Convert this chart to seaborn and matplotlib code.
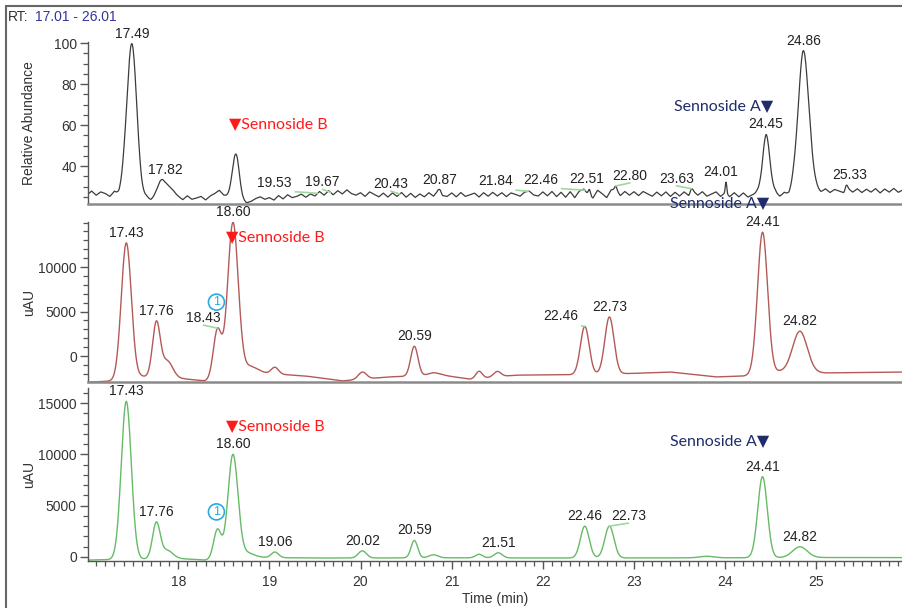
import numpy as np
import matplotlib
matplotlib.use('Agg')
import matplotlib.pyplot as plt
import seaborn as sns
from matplotlib.lines import Line2D
from matplotlib.ticker import MultipleLocator

# ---- values ----
rt_range = (17.01, 26.01)

# MS trace: noisy baseline, one value every 0.05 min starting at 17.00
ms_baseline = [
    26.0, 27.8, 25.8, 27.4, 26.6, 25.2, 27.6, 25.6, 27.2, 25.4, 25.8, 24.6, 23.6, 24.8, 23.5, 25.0, 25.4, 24.6, 25.6, 26.0,
    25.0, 23.6, 25.5, 23.8, 24.4, 25.2, 23.5, 25.4, 26.6, 28.2, 25.8, 25.0, 24.4, 25.2, 23.2, 22.0, 22.8, 24.2, 25.0, 23.8,
    24.6, 23.4, 25.6, 24.0, 26.0, 24.6, 25.2, 26.3, 24.8, 26.4, 25.4, 27.6, 25.8, 28.0, 26.0, 28.0, 26.4, 28.4, 26.6, 25.8,
    27.0, 25.2, 27.4, 26.2, 25.0, 26.8, 24.9, 26.9, 25.2, 27.1, 24.8, 26.7, 24.7, 26.4, 25.0, 27.0, 25.3, 28.0, 25.6, 25.2,
    26.9, 25.0, 27.1, 25.2, 26.0, 26.8, 24.9, 27.0, 25.3, 27.2, 25.4, 27.0, 25.1, 26.9, 26.2, 25.3, 27.3, 27.8, 25.9, 25.4,
    27.4, 25.5, 27.6, 25.1, 27.2, 24.8, 27.5, 24.6, 27.8, 28.8, 25.9, 24.4, 28.2, 26.6, 24.6, 28.4, 28.8, 25.6, 27.6, 25.8,
    27.5, 25.6, 27.6, 26.4, 25.3, 27.3, 25.5, 27.4, 25.2, 27.2, 25.4, 27.4, 25.6, 27.8, 25.8, 27.5, 25.3, 26.4, 27.4, 25.2,
    27.0, 25.1, 27.0, 25.0, 26.9, 24.9, 26.0, 26.8, 24.8, 27.4, 25.4, 27.0, 25.3, 27.1, 25.5, 27.4, 25.8, 27.6, 26.0, 27.6,
    28.2, 27.2, 28.9, 27.1, 28.6, 27.8, 27.0, 29.0, 27.3, 28.9, 27.1, 28.7, 27.3, 29.0, 26.9, 28.8, 27.3, 29.1, 27.2, 28.4,
]
ms_peak_rt = [17.49, 17.82, 17.90, 18.63, 20.87, 22.51, 22.80, 23.63, 24.01, 24.45, 24.86, 25.33]
ms_peak_height = [74, 7.5, 3.0, 21, 1.5, 3.0, 1.5, 2.0, 5.5, 28, 69, 2.5]
ms_peak_sigma = [0.055, 0.045, 0.05, 0.038, 0.012, 0.012, 0.012, 0.012, 0.008, 0.042, 0.06, 0.012]
ms_labels = ['17.49', '17.82', '19.53', '19.67', '20.43', '20.87', '21.84', '22.46',
             '22.51', '22.80', '23.63', '24.01', '24.45', '24.86', '25.33']

# UV trace 1 (brown)
uv1_base_t = [17.0, 17.3, 17.6, 17.75, 18.05, 18.3, 18.9, 19.4, 19.8, 20.3, 20.9, 21.2, 21.7,
              22.3, 23.0, 23.4, 23.9, 24.2, 24.6, 25.1, 25.95]
uv1_base_v = [-2950, -2800, -2300, -2400, -2550, -2800, -1900, -2250, -2800, -2350, -2150, -2600, -2150,
              -2100, -1950, -1800, -2350, -2250, -1750, -1900, -1800]
uv1_peak_rt = [17.43, 17.76, 17.88, 18.43, 18.60, 18.78, 19.06, 20.02, 20.59, 20.80,
               21.30, 21.50, 22.46, 22.73, 24.41, 24.82]
uv1_peak_height = [15300, 6100, 1900, 5500, 17300, 900, 750, 800, 3350, 300,
                   800, 600, 5400, 6400, 15900, 4600]
uv1_peak_sigma = [0.055, 0.042, 0.06, 0.045, 0.058, 0.08, 0.04, 0.045, 0.04, 0.06,
                  0.035, 0.04, 0.048, 0.05, 0.055, 0.08]
uv1_labels = ['17.43', '17.76', '18.43', '18.60', '20.59', '22.46', '22.73', '24.41', '24.82']

# UV trace 2 (green)
uv2_base_t = [17.0, 17.3, 18.0, 18.3, 18.9, 19.5, 20.0, 21.0, 22.0, 23.0, 24.0, 25.0, 25.95]
uv2_base_v = [-300, -250, -150, -300, -50, -100, -100, -80, -100, -90, -80, -50, -60]
uv2_peak_rt = [17.43, 17.76, 17.88, 18.43, 18.60, 18.75, 19.06, 20.02, 20.59, 20.80,
               21.30, 21.51, 22.46, 22.73, 23.80, 24.41, 24.82]
uv2_peak_height = [15400, 3500, 800, 2900, 10100, 500, 550, 700, 1700, 300,
                   350, 500, 3100, 3100, 150, 7900, 1050]
uv2_peak_sigma = [0.055, 0.042, 0.06, 0.042, 0.055, 0.08, 0.04, 0.045, 0.036, 0.05,
                  0.04, 0.045, 0.048, 0.05, 0.08, 0.052, 0.08]
uv2_labels = ['17.43', '17.76', '18.60', '19.06', '20.02', '20.59', '21.51',
              '22.46', '22.73', '24.41', '24.82']

sennoside_b_rt = [18.63, 18.60, 18.60]
sennoside_a_rt = [24.45, 24.41, 24.41]

# horizontal shifts of labels that were moved off their apex (pixels)
ms_nudge = {'17.82': 4, '19.53': -43, '19.67': -8, '20.43': -9, '21.84': -33,
            '22.46': -44, '22.51': -3, '22.80': 14, '23.63': -15, '24.01': -5, '25.33': 3}
uv1_nudge = {'18.43': -14, '22.46': -24}
uv2_nudge = {'22.73': 19}

W, H = 902, 608
LINK_GREEN = '#9fd89f'
LABEL_FONT = ['Liberation Sans', 'DejaVu Sans']
NAME_FONT = ['Lato', 'DejaVu Sans']

sns.set_theme(style='white')
plt.rcParams['font.family'] = LABEL_FONT


def build_trace(grid, base_t, base_v, peak_rt, peak_h, peak_s):
    y = np.interp(grid, base_t, base_v)
    for rt, h, s in zip(peak_rt, peak_h, peak_s):
        y = y + h * np.exp(-0.5 * ((grid - rt) / s) ** 2)
    return y


def label_peaks(ax, grid, y, labels, nudges):
    for lab in labels:
        rt = float(lab)
        yv = np.interp(rt, grid, y)
        dx = nudges.get(lab, 0)
        arrow = None
        if abs(dx) > 6:
            arrow = dict(arrowstyle='-', color=LINK_GREEN, lw=1.2,
                         shrinkA=0, shrinkB=0, relpos=(0.5, 0))
        ax.annotate(lab, xy=(rt, yv), xytext=(dx, 3), textcoords='offset pixels',
                    ha='center', va='bottom', fontsize=10, color='#222222',
                    arrowprops=arrow)


def mark_compound(ax, grid, y, rt, name, color, dy, left):
    yv = np.interp(rt, grid, y)
    if left:
        txt, ha, dx = '\u25bc' + name, 'left', -7
    else:
        txt, ha, dx = name + '\u25bc', 'right', 7
    ax.annotate(txt, xy=(rt, yv), xytext=(dx, dy), textcoords='offset pixels',
                ha=ha, va='center', fontsize=11.5, color=color, family=NAME_FONT)


def circled_one(ax, grid, y, dy):
    yv = np.interp(18.43, grid, y)
    ax.annotate('1', xy=(18.43, yv), xytext=(-1, dy), textcoords='offset pixels',
                ha='center', va='center', fontsize=9, color='#29abe2',
                bbox=dict(boxstyle='circle,pad=0.16', fc='none', ec='#29abe2', lw=1.2))


def px_axes(fig, left, top, right, bottom):
    return fig.add_axes([left / W, 1 - bottom / H, (right - left) / W, (bottom - top) / H])


def style_axes(ax, show_x):
    for side in ['top', 'right']:
        ax.spines[side].set_visible(False)
    ax.spines['left'].set_color('#555555')
    ax.spines['left'].set_linewidth(1.0)
    ax.spines['bottom'].set_color('#555555' if show_x else '#8a8a8a')
    ax.spines['bottom'].set_linewidth(1.0 if show_x else 1.8)
    ax.tick_params(axis='y', which='major', length=6, width=1, color='#555555',
                   labelsize=10, labelcolor='#333333', pad=2, direction='out', left=True)
    ax.tick_params(axis='y', which='minor', length=3.5, width=0.9, color='#555555',
                   direction='out', left=True)
    if show_x:
        ax.xaxis.set_major_locator(MultipleLocator(1))
        ax.xaxis.set_minor_locator(MultipleLocator(0.1))
        ax.tick_params(axis='x', which='major', length=6, width=1, color='#555555',
                       labelsize=10, labelcolor='#333333', pad=4, direction='out', bottom=True)
        ax.tick_params(axis='x', which='minor', length=3.5, width=0.9, color='#555555',
                       direction='out', bottom=True)
    else:
        ax.tick_params(axis='x', which='both', bottom=False, labelbottom=False)
    ax.set_xlim(17.01, 25.94)
    ax.set_facecolor('none')


grid = np.linspace(17.0, 25.95, 1791)
noise_t = 17.0 + 0.05 * np.arange(len(ms_baseline))

ms_y = build_trace(grid, noise_t, ms_baseline, ms_peak_rt, ms_peak_height, ms_peak_sigma)
uv1_y = build_trace(grid, uv1_base_t, uv1_base_v, uv1_peak_rt, uv1_peak_height, uv1_peak_sigma)
uv2_y = build_trace(grid, uv2_base_t, uv2_base_v, uv2_peak_rt, uv2_peak_height, uv2_peak_sigma)

fig = plt.figure(figsize=(W / 100, H / 100), dpi=100)
fig.patch.set_facecolor('white')

ax1 = px_axes(fig, 88, 42, 902, 204)
ax2 = px_axes(fig, 88, 222, 902, 382)
ax3 = px_axes(fig, 88, 388, 902, 561)

# MS panel
sns.lineplot(x=grid, y=ms_y, ax=ax1, color='#3c3c3c', linewidth=0.9)
style_axes(ax1, False)
ax1.set_ylim(21.5, 100.5)
ax1.set_yticks([40, 60, 80, 100])
ax1.yaxis.set_minor_locator(MultipleLocator(5))
ax1.set_ylabel('Relative Abundance', fontsize=10, color='#333333')
ax1.yaxis.set_label_coords(-0.064, 0.5)
label_peaks(ax1, grid, ms_y, ms_labels, ms_nudge)
mark_compound(ax1, grid, ms_y, sennoside_b_rt[0], 'Sennoside B', '#ff1a1a', 30, True)
mark_compound(ax1, grid, ms_y, sennoside_a_rt[0], 'Sennoside A', '#1f2d6b', 28, False)

# UV panel 1
sns.lineplot(x=grid, y=uv1_y, ax=ax2, color='#b35a57', linewidth=1.0)
style_axes(ax2, False)
ax2.set_ylim(-2920, 15060)
ax2.set_yticks([0, 5000, 10000])
ax2.yaxis.set_minor_locator(MultipleLocator(1000))
ax2.set_ylabel('uAU', fontsize=10, color='#333333')
ax2.yaxis.set_label_coords(-0.064, 0.5)
label_peaks(ax2, grid, uv1_y, uv1_labels, uv1_nudge)
mark_compound(ax2, grid, uv1_y, sennoside_b_rt[1], 'Sennoside B', '#ff1a1a', -15, True)
mark_compound(ax2, grid, uv1_y, sennoside_a_rt[1], 'Sennoside A', '#1f2d6b', 29, False)
circled_one(ax2, grid, uv1_y, 26)

# UV panel 2
sns.lineplot(x=grid, y=uv2_y, ax=ax3, color='#66bb66', linewidth=1.0)
style_axes(ax3, True)
ax3.set_ylim(-390, 16470)
ax3.set_yticks([0, 5000, 10000, 15000])
ax3.yaxis.set_minor_locator(MultipleLocator(1000))
ax3.set_ylabel('uAU', fontsize=10, color='#333333')
ax3.yaxis.set_label_coords(-0.064, 0.5)
ax3.set_xticks(range(18, 26))
ax3.set_xlabel('Time (min)', fontsize=10, color='#333333', labelpad=2)
label_peaks(ax3, grid, uv2_y, uv2_labels, uv2_nudge)
mark_compound(ax3, grid, uv2_y, sennoside_b_rt[2], 'Sennoside B', '#ff1a1a', 28, True)
mark_compound(ax3, grid, uv2_y, sennoside_a_rt[2], 'Sennoside A', '#1f2d6b', 36, False)
circled_one(ax3, grid, uv2_y, 17)

# outer frame (cropped on the right and bottom) and the range header
fig.add_artist(Line2D([6 / W, 6 / W], [1 - 6 / H, 0], color='#666666', lw=1.5))
fig.add_artist(Line2D([6 / W, 1], [1 - 6 / H, 1 - 6 / H], color='#666666', lw=1.5))
fig.text(8 / W, 1 - 17 / H, 'RT:', fontsize=10, color='#333333', va='center')
fig.text(35 / W, 1 - 17 / H, '17.01 - 26.01', fontsize=10, color='#34349c', va='center')

fig.savefig('out.png', dpi=100, facecolor='white')
